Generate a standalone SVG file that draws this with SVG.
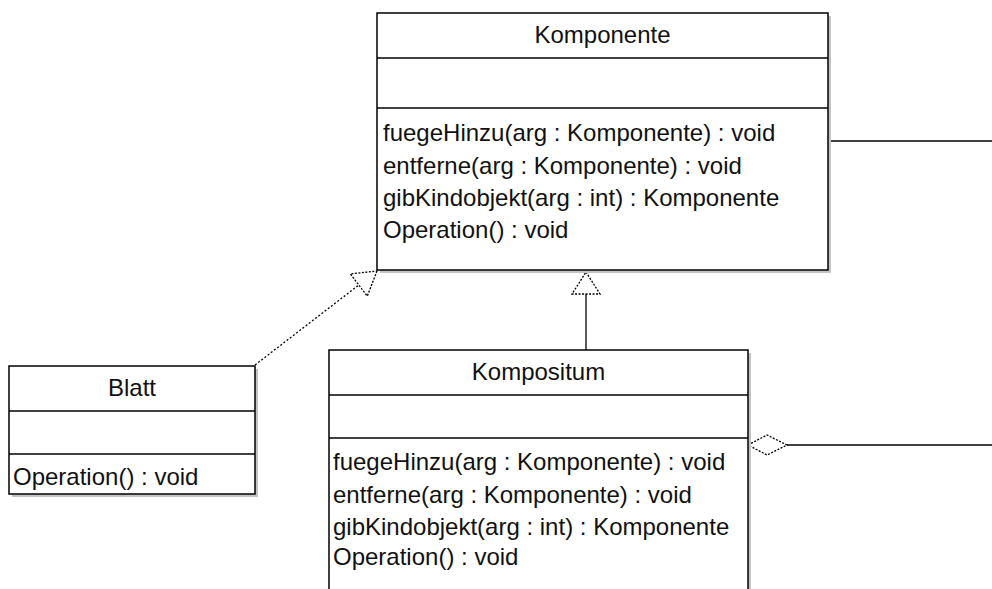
<svg xmlns="http://www.w3.org/2000/svg" width="992" height="589" viewBox="0 0 992 589">
<style>
.box{fill:#fff;stroke:#000;stroke-width:1.5}
.shadow{fill:#c4c4c4}
.sep{stroke:#000;stroke-width:1.5}
.t{font-family:"Liberation Sans",Arial,sans-serif;font-size:24px;fill:#111}
.c{text-anchor:middle}
.ln{fill:none;stroke:#000;stroke-width:1.3}
.head{fill:#fff;stroke:#000;stroke-width:1.3}
</style>
<rect width="992" height="589" fill="#fff"/>
<g id="connectors">
  <line class="ln" x1="828" y1="141" x2="992" y2="141"/>
  <line class="ln" x1="787" y1="445" x2="992" y2="445"/>
  <polygon class="head" points="748,445 767,435 787,445 767,455" stroke-dasharray="2,1.5"/>
  <line class="ln" x1="586" y1="350" x2="586" y2="294"/>
  <polygon class="head" points="586,272 600,294 572,294" stroke-dasharray="2,1.5"/>
  <line class="ln" x1="255" y1="365" x2="358.8" y2="285" stroke-dasharray="2,2"/>
  <polygon class="head" points="377,271 367.3,296.1 350.3,273.9" stroke-dasharray="2,1.5"/>
</g>
<g id="komponente">
  <rect class="shadow" x="380" y="16" width="451" height="257"/>
  <rect class="box" x="377" y="13" width="451" height="257"/>
  <line class="sep" x1="377" y1="58" x2="828" y2="58"/>
  <line class="sep" x1="377" y1="108" x2="828" y2="108"/>
  <text class="t c" x="602.5" y="43">Komponente</text>
  <text class="t" x="383" y="141">fuegeHinzu(arg : Komponente) : void</text>
  <text class="t" x="383" y="174">entferne(arg : Komponente) : void</text>
  <text class="t" x="383" y="206">gibKindobjekt(arg : int) : Komponente</text>
  <text class="t" x="383" y="238">Operation() : void</text>
</g>
<g id="blatt">
  <rect class="shadow" x="12" y="369" width="246" height="128"/>
  <rect class="box" x="9" y="366" width="246" height="128"/>
  <line class="sep" x1="9" y1="411" x2="255" y2="411"/>
  <line class="sep" x1="9" y1="454" x2="255" y2="454"/>
  <text class="t c" x="132" y="396">Blatt</text>
  <text class="t" x="13" y="485">Operation() : void</text>
</g>
<g id="kompositum">
  <rect class="shadow" x="332" y="353" width="419" height="260"/>
  <rect class="box" x="329" y="350" width="419" height="260"/>
  <line class="sep" x1="329" y1="395" x2="748" y2="395"/>
  <line class="sep" x1="329" y1="438" x2="748" y2="438"/>
  <text class="t c" x="538.5" y="380">Kompositum</text>
  <text class="t" x="333" y="470">fuegeHinzu(arg : Komponente) : void</text>
  <text class="t" x="333" y="503">entferne(arg : Komponente) : void</text>
  <text class="t" x="333" y="535">gibKindobjekt(arg : int) : Komponente</text>
  <text class="t" x="333" y="565">Operation() : void</text>
</g>
</svg>
